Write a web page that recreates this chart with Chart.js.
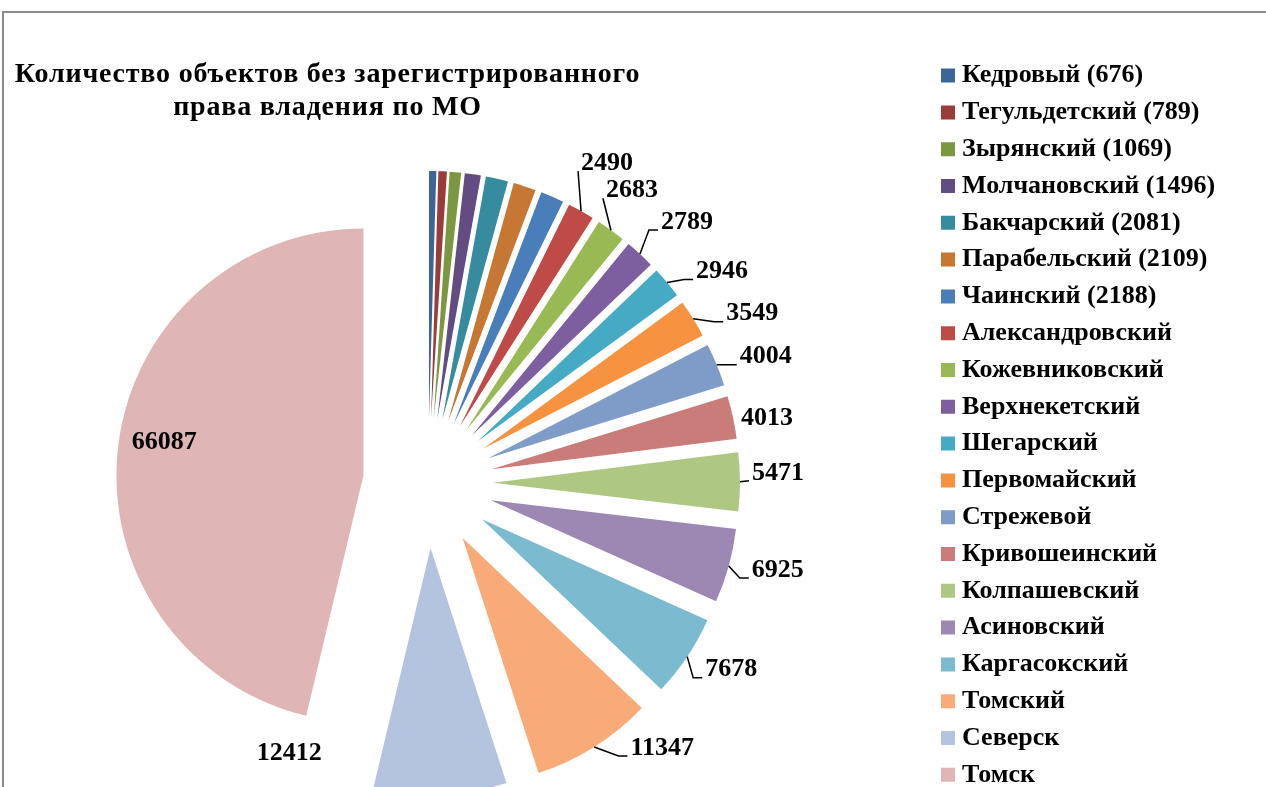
<!DOCTYPE html>
<html>
<head>
<meta charset="utf-8">
<script src="https://cdn.jsdelivr.net/npm/chart.js@4.4.1/dist/chart.umd.min.js"></script>
<style>
  html, body { margin:0; padding:0; width:1266px; height:787px; overflow:hidden; background:#ffffff; }
  #frame { position:absolute; left:2px; top:11px; width:1400px; height:900px;
           border-left:2px solid #8a8a8a; border-top:2px solid #8a8a8a; }
  #wrap { position:absolute; left:-200px; top:0; }
  #title { position:absolute; left:0; top:56px; width:655px; text-align:center;
           font-family:'Liberation Serif', serif; font-weight:bold; font-size:28px;
           letter-spacing:0.8px; line-height:33px; color:#000; }
</style>
</head>
<body>
<div id="frame"></div>
<div id="wrap"><canvas id="c"></canvas></div>
<div id="title">Количество объектов без зарегистрированного<br>права владения по МО</div>
<script>
// ---- data ----
const categories = ['Кедровый','Тегульдетский','Зырянский','Молчановский','Бакчарский','Парабельский','Чаинский',
  'Александровский','Кожевниковский','Верхнекетский','Шегарский','Первомайский','Стрежевой','Кривошеинский',
  'Колпашевский','Асиновский','Каргасокский','Томский','Северск','Томск'];
const values = [676, 789, 1069, 1496, 2081, 2109, 2188, 2490, 2683, 2789, 2946, 3549, 4004, 4013, 5471, 6925, 7678, 11347, 12412, 66087];
const legendLabels = ['Кедровый (676)','Тегульдетский (789)','Зырянский (1069)','Молчановский (1496)','Бакчарский (2081)',
  'Парабельский (2109)','Чаинский (2188)','Александровский','Кожевниковский','Верхнекетский','Шегарский','Первомайский',
  'Стрежевой','Кривошеинский','Колпашевский','Асиновский','Каргасокский','Томский','Северск','Томск'];
const showValueLabel = [false,false,false,false,false,false,false,true,true,true,true,true,true,true,true,true,true,true,true,true];

// ---- styles ----
const colors = ['#3D6698','#9A3D3A','#7B9741','#624C82','#378B9E','#C67733','#4A7EBB','#BE4B48','#98B954','#7D5FA0',
  '#46AAC4','#F69240','#7F9CC8','#CA7C7A','#AEC783','#9C88B3','#7BBACF','#F8AB78','#B4C3DE','#DFB5B5'];
const FONT_FAMILY = "'Liberation Serif', serif";
const FONT_SIZE = 26;
const EXPLODE = 65;       // slice explosion distance (px)
const PIE_RADIUS = 247;
// label placement nudges relative to each slice's outer mid-point: [dx, dy, leaderLine]
const LABEL_NUDGE = [null,null,null,null,null,null,null,
  [26,-48,1],[21,-40,1],[47,-32,1],[55,-11,1],[59,-5,1],[49,-8,1],[34,1,0],[38,-9,1],
  [49,4,1],[44,13,1],[68,1,1],[-151,-41,0],[46,-4,0]];

// ---- layout ----
const CANVAS_OFFSET = 200;           // canvas shifted left by this many px
const CANVAS_W = 1500, CANVAS_H = 920;
const centerX = 428 + CANVAS_OFFSET, centerY = 483;
const LEG_PAD = 10.8;
const legendLeft = 936.2 + CANVAS_OFFSET;
const mctx = document.createElement('canvas').getContext('2d');
mctx.font = 'bold ' + FONT_SIZE + 'px ' + FONT_FAMILY;
const maxTextW = Math.max(...legendLabels.map(t => mctx.measureText(t).width));
const legendW = LEG_PAD + 2 + FONT_SIZE / 2 + maxTextW + 10;
const padRight = CANVAS_W - (legendLeft + legendW);
const padLeft = 2 * centerX - legendLeft;
const padTop = 51.8;
const padBottom = CANVAS_H - (2 * centerY - padTop);

const cv = document.getElementById('c');
cv.width = CANVAS_W; cv.height = CANVAS_H;
cv.style.width = CANVAS_W + 'px'; cv.style.height = CANVAS_H + 'px';

const explodePlugin = {
  id: 'explode',
  afterDatasetUpdate(chart, args) {
    const meta = chart.getDatasetMeta(args.index);
    meta.data.forEach(arc => {
      const mid = (arc.startAngle + arc.endAngle) / 2;
      arc.x += Math.cos(mid) * EXPLODE;
      arc.y += Math.sin(mid) * EXPLODE;
    });
  }
};

const labelPlugin = {
  id: 'valueLabels',
  afterDatasetsDraw(chart) {
    const ctx = chart.ctx;
    const meta = chart.getDatasetMeta(0);
    ctx.save();
    ctx.font = 'bold ' + FONT_SIZE + 'px ' + FONT_FAMILY;
    ctx.fillStyle = '#000';
    ctx.strokeStyle = '#000';
    ctx.lineWidth = 1.5;
    ctx.textAlign = 'center';
    ctx.textBaseline = 'middle';
    meta.data.forEach((arc, i) => {
      if (!showValueLabel[i]) return;
      const n = LABEL_NUDGE[i];
      const mid = (arc.startAngle + arc.endAngle) / 2;
      const px = arc.x + Math.cos(mid) * arc.outerRadius;
      const py = arc.y + Math.sin(mid) * arc.outerRadius;
      const cx = px + n[0], cy = py + n[1];
      const text = String(values[i]);
      const w = ctx.measureText(text).width;
      if (n[2]) {
        const L = cx - w / 2, Y = cy + 8;
        ctx.beginPath();
        ctx.moveTo(px, py);
        if (px < L - 12) { ctx.lineTo(L - 12, Y); }
        ctx.lineTo(L - 3, Y);
        ctx.stroke();
      }
      ctx.fillText(text, cx, cy);
    });
    ctx.restore();
  }
};

new Chart(cv, {
  type: 'pie',
  data: {
    labels: categories,
    datasets: [{
      data: values,
      backgroundColor: colors,
      borderWidth: 0,
      radius: PIE_RADIUS
    }]
  },
  options: {
    responsive: false,
    animation: false,
    events: [],
    layout: { padding: { left: padLeft, right: padRight, top: padTop, bottom: padBottom } },
    plugins: {
      tooltip: { enabled: false },
      title: { display: false },
      legend: {
        display: true,
        position: 'right',
        align: 'start',
        labels: {
          font: { family: FONT_FAMILY, size: FONT_SIZE, weight: 'bold' },
          color: '#000',
          usePointStyle: true,
          pointStyle: 'rect',
          boxWidth: 2,
          boxHeight: 14,
          padding: LEG_PAD,
          generateLabels: () => legendLabels.map((t, i) => ({
            text: t, fillStyle: colors[i], strokeStyle: colors[i], lineWidth: 0,
            pointStyle: 'rect', hidden: false, index: i, fontColor: '#000'
          }))
        }
      }
    }
  },
  plugins: [explodePlugin, labelPlugin]
});
</script>
</body>
</html>
